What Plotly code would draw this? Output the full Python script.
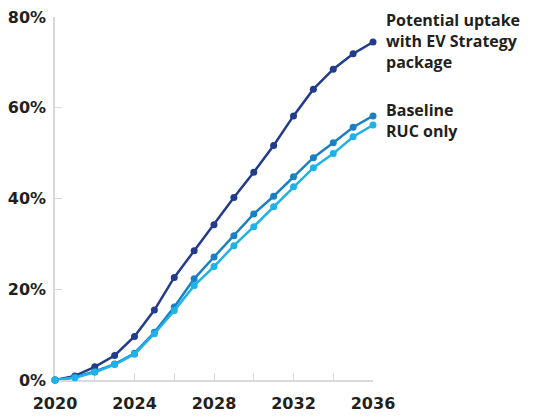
import plotly.graph_objects as go

years = list(range(2020, 2037))

# EV share of new vehicle registrations (%)
ev_strategy = [0, 0.9, 2.9, 5.4, 9.6, 15.4, 22.6, 28.5, 34.2, 40.2, 45.8, 51.7, 58.2, 64.1, 68.5, 71.9, 74.5]
baseline = [0, 0.6, 1.9, 3.5, 5.9, 10.5, 16.1, 22.3, 27.1, 31.8, 36.6, 40.5, 44.8, 49.0, 52.3, 55.7, 58.2]
ruc_only = [0, 0.5, 1.7, 3.4, 5.7, 10.2, 15.3, 20.8, 25.0, 29.6, 33.8, 38.2, 42.6, 46.8, 49.9, 53.6, 56.2]

x_tickvals = [2020, 2024, 2028, 2032, 2036]
y_tickvals = [0, 20, 40, 60, 80]
y_ticktext = ["0%", "20%", "40%", "60%", "80%"]

TEXT = "#231f20"

fig = go.Figure()

# light series drawn last so it sits on top where the lines meet
for vals, color in [
    (ev_strategy, "#233b8b"),
    (baseline, "#1a80c2"),
    (ruc_only, "#1fb2e8"),
]:
    fig.add_trace(
        go.Scatter(
            x=years,
            y=vals,
            mode="lines+markers",
            line=dict(color=color, width=2.5),
            marker=dict(color=color, size=7),
            cliponaxis=False,
            showlegend=False,
            hoverinfo="skip",
        )
    )

# series labels sit to the right of the plot area
label_font = dict(family="Open Sans", size=16, color=TEXT, weight="bold")
fig.add_annotation(
    x=1.035, y=74.8, xref="paper", yref="y",
    text="Potential uptake<br>with EV Strategy<br>package",
    showarrow=False, xanchor="left", yanchor="middle", align="left",
    font=label_font,
)
fig.add_annotation(
    x=1.035, y=57.1, xref="paper", yref="y",
    text="Baseline<br>RUC only",
    showarrow=False, xanchor="left", yanchor="middle", align="left",
    font=label_font,
)

axis_font = dict(family="DejaVu Sans", size=16, color=TEXT, weight="bold")

# page body adds an 8px offset, so the figure is 8px smaller on each side
fig.update_layout(
    width=525,
    height=409,
    margin=dict(l=47, r=160, t=9, b=37),
    plot_bgcolor="white",
    paper_bgcolor="white",
    xaxis=dict(
        range=[2020, 2036],
        tickvals=x_tickvals,
        ticks="inside",
        ticklen=7,
        tickcolor="#d9d9d9",
        showline=True,
        linecolor="#d9d9d9",
        linewidth=1.5,
        showgrid=False,
        zeroline=False,
        layer="below traces",
        tickfont=axis_font,
        ticklabelstandoff=8,
        ticklabeloverflow="allow",
        automargin=False,
        minor=dict(dtick=2, tick0=2020, ticks="inside", ticklen=7, tickcolor="#d9d9d9", showgrid=False),
    ),
    yaxis=dict(
        range=[0, 80],
        tickvals=y_tickvals,
        ticktext=y_ticktext,
        ticks="inside",
        ticklen=7,
        tickcolor="#d9d9d9",
        showline=True,
        linecolor="#d9d9d9",
        linewidth=1.5,
        showgrid=False,
        zeroline=False,
        layer="below traces",
        tickfont=axis_font,
        ticklabelstandoff=4,
        ticklabeloverflow="allow",
        automargin=False,
    ),
)

fig.write_html("out.html")
